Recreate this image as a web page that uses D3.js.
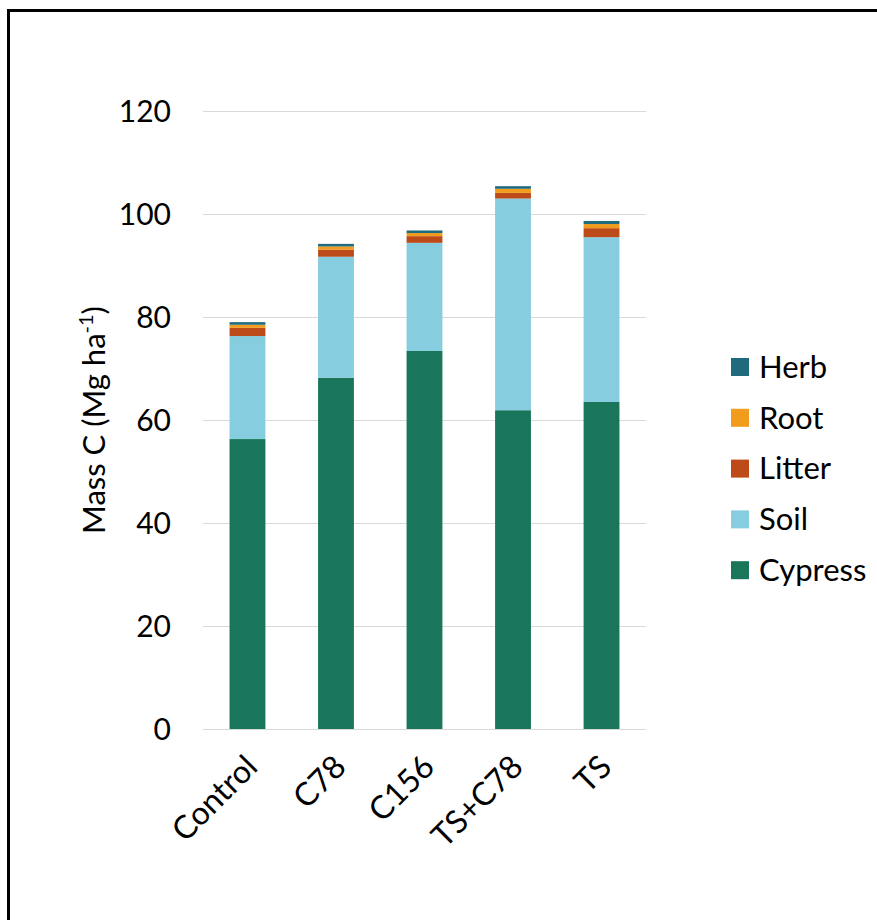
<!DOCTYPE html>
<html>
<head>
<meta charset="utf-8">
<script src="https://cdn.jsdelivr.net/npm/d3@7"></script>
<style>
  html, body { margin: 0; padding: 0; background: #fff; }
  svg { display: block; }
  text { font-family: Lato, "Open Sans", "Liberation Sans", sans-serif; fill: #000; }
</style>
</head>
<body>
<svg id="chart" width="877" height="920"></svg>
<script>
// Carbon pools by treatment (Mg C per ha)
const treatments = ["Control", "C78", "C156", "TS+C78", "TS"];
const cypress = [56.3, 68.2, 73.4, 61.9, 63.5];
const soil    = [20.0, 23.5, 21.0, 41.1, 32.0];
const litter  = [1.6, 1.4, 1.3, 1.1, 1.75];
const root    = [0.6, 0.6, 0.6, 0.8, 0.8];
const herb    = [0.5, 0.5, 0.5, 0.5, 0.6];
const yTicks  = [0, 20, 40, 60, 80, 100, 120];

const pools = [
  { name: "Cypress", values: cypress, color: "#1a765b" },
  { name: "Soil",    values: soil,    color: "#87cde0" },
  { name: "Litter",  values: litter,  color: "#bd4b1a" },
  { name: "Root",    values: root,    color: "#f19c1c" },
  { name: "Herb",    values: herb,    color: "#1f6a7c" }
];

const svg = d3.select("#chart");

// outer frame
svg.append("rect")
  .attr("x", 8.5).attr("y", 10.5)
  .attr("width", 900).attr("height", 950)
  .attr("fill", "none").attr("stroke", "#000").attr("stroke-width", 3);

const plotLeft = 203, plotRight = 646, plotTop = 111, plotBottom = 729;

const x = d3.scaleBand().domain(treatments).range([plotLeft, plotRight]).paddingInner(0.595).paddingOuter(0.3);
const y = d3.scaleLinear().domain([0, 120]).range([plotBottom, plotTop]);

// gridlines
svg.append("g").selectAll("line").data(yTicks).join("line")
  .attr("x1", plotLeft).attr("x2", plotRight)
  .attr("y1", d => y(d) + 0.5).attr("y2", d => y(d) + 0.5)
  .attr("stroke", "#d9d9d9").attr("stroke-width", 1);

// y tick labels
svg.append("g").selectAll("text").data(yTicks).join("text")
  .attr("x", 171).attr("y", d => y(d))
  .attr("dy", "0.35em")
  .attr("text-anchor", "end")
  .attr("font-size", 30)
  .text(d => d);

// stacked bars
const rows = treatments.map((t, i) => {
  const r = { treatment: t };
  pools.forEach(p => { r[p.name] = p.values[i]; });
  return r;
});
const stack = d3.stack().keys(pools.map(p => p.name))(rows);

svg.append("g").selectAll("g").data(stack).join("g")
  .attr("fill", (d, i) => pools[i].color)
  .selectAll("rect").data(d => d).join("rect")
  .attr("x", d => x(d.data.treatment))
  .attr("width", x.bandwidth())
  .attr("y", d => y(d[1]))
  .attr("height", d => y(d[0]) - y(d[1]));

// baseline
svg.append("line")
  .attr("x1", plotLeft).attr("x2", plotRight)
  .attr("y1", plotBottom + 0.5).attr("y2", plotBottom + 0.5)
  .attr("stroke", "#d9d9d9");

// x labels, rotated
svg.append("g").selectAll("text").data(treatments).join("text")
  .attr("transform", d => `translate(${x(d) + x.bandwidth() / 2 + 4},${plotBottom + 32}) rotate(-45)`)
  .attr("text-anchor", "end")
  .attr("dy", "0.35em")
  .attr("font-size", 32)
  .text(d => d);

// y axis title
const yt = svg.append("text")
  .attr("transform", `translate(105,${(plotTop + plotBottom) / 2}) rotate(-90)`)
  .attr("text-anchor", "middle")
  .attr("font-size", 31);
yt.append("tspan").text("Mass C (Mg ha");
yt.append("tspan").attr("dy", -12).attr("font-size", 20).text("-1");
yt.append("tspan").attr("dy", 12).text(")");

// legend (top to bottom: Herb ... Cypress)
const legendItems = pools.slice().reverse();
const lg = svg.append("g").selectAll("g").data(legendItems).join("g")
  .attr("transform", (d, i) => `translate(731,${367 + i * 50.8})`);
lg.append("rect")
  .attr("x", 0).attr("y", -9).attr("width", 18).attr("height", 18)
  .attr("fill", d => d.color);
lg.append("text")
  .attr("x", 28).attr("dy", "0.35em")
  .attr("font-size", 31)
  .text(d => d.name);
</script>
</body>
</html>
